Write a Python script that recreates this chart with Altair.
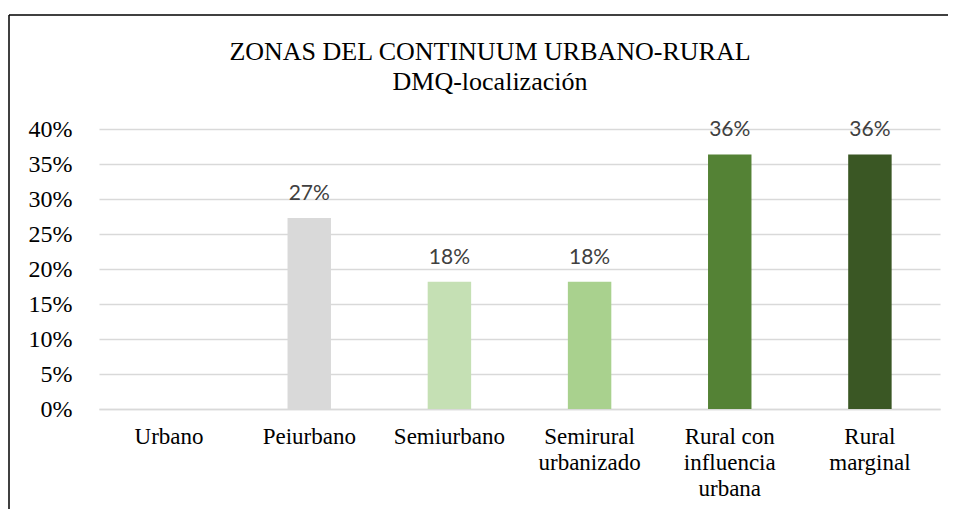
import altair as alt
import pandas as pd

categories = ["Urbano", "Peiurbano", "Semiurbano", "Semirural\nurbanizado",
              "Rural con\ninfluencia\nurbana", "Rural\nmarginal"]
values = [0.0, 0.2727, 0.1818, 0.1818, 0.3636, 0.3636]
y_ticks = [0, 0.05, 0.10, 0.15, 0.20, 0.25, 0.30, 0.35, 0.40]
title_lines = ["ZONAS DEL CONTINUUM URBANO-RURAL", "DMQ-localización"]
palette = ["#FFFFFF", "#D9D9D9", "#C5E0B4", "#A9D18E", "#548235", "#3A5724"]

df = pd.DataFrame({"zona": categories, "valor": values})

W, H = 841, 280
SERIF = "'Liberation Serif', 'Times New Roman', 'DejaVu Serif', serif"

x_enc = alt.X("zona:N", sort=categories,
              scale=alt.Scale(paddingInner=0.69, paddingOuter=0.345),
              axis=alt.Axis(title=None, labelAngle=0, labelFont=SERIF, labelFontSize=23,
                            labelColor="#000000", labelLineHeight=26, labelPadding=16,
                            labelExpr="split(datum.label, '\\n')", ticks=False,
                            domainColor="#D9D9D9", domainWidth=1.5, labelBaseline="top",
                            grid=False))
y_enc = alt.Y("valor:Q", scale=alt.Scale(domain=[0, 0.4], nice=False),
              axis=alt.Axis(title=None, values=y_ticks, format=".0%", labelFont=SERIF,
                            labelFontSize=24, labelColor="#000000", labelPadding=27,
                            labelOverlap=False, ticks=False, domain=False,
                            gridColor="#D9D9D9", gridWidth=1.5, grid=True))

base = alt.Chart(df)

bars = base.mark_bar().encode(
    x=x_enc, y=y_enc,
    color=alt.Color("zona:N", sort=categories,
                    scale=alt.Scale(domain=categories, range=palette), legend=None),
)

labels = base.transform_filter("datum.valor > 0").mark_text(
    font="Lato", fontSize=21, color="#404040", baseline="alphabetic", dy=-18
).encode(x=x_enc, y=y_enc, text=alt.Text("valor:Q", format=".0%"))

title1 = alt.Chart(pd.DataFrame({"t": [title_lines[0]]})).mark_text(
    font=SERIF, fontSize=26, color="#000000", baseline="alphabetic", align="center"
).encode(x=alt.value(391), y=alt.value(-69), text="t:N")
title2 = alt.Chart(pd.DataFrame({"t": [title_lines[1]]})).mark_text(
    font=SERIF, fontSize=26, color="#000000", baseline="alphabetic", align="center"
).encode(x=alt.value(391), y=alt.value(-39), text="t:N")

frame_top = alt.Chart(pd.DataFrame({"a": [0]})).mark_rule(color="#000000", strokeWidth=1.5).encode(
    x=alt.value(-90), x2=alt.value(W + 20), y=alt.value(-114))
frame_left = alt.Chart(pd.DataFrame({"a": [0]})).mark_rule(color="#000000", strokeWidth=1.5).encode(
    x=alt.value(-90), y=alt.value(-114), y2=alt.value(H + 120))

chart = alt.layer(frame_top, frame_left, title1, title2, bars, labels).properties(
    width=W, height=H,
    autosize=alt.AutoSizeParams(type="none"),
    padding={"left": 91, "top": 121, "right": 8, "bottom": 100},
).configure_view(stroke=None)

chart.save("out.html", embed_options={"renderer": "svg", "actions": False})
